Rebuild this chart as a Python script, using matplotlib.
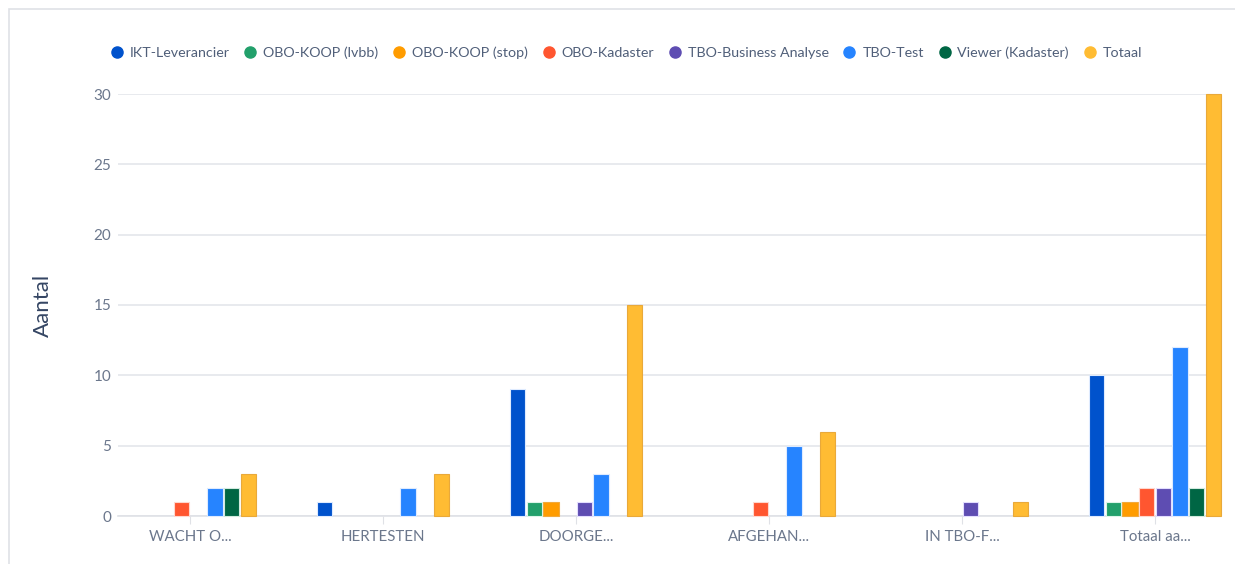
import matplotlib
matplotlib.use('Agg')
import matplotlib.pyplot as plt
from matplotlib.lines import Line2D
from matplotlib.patches import Rectangle
import numpy as np

plt.rcParams['font.family'] = ['Lato', 'DejaVu Sans']

categories = ['WACHT O...', 'HERTESTEN', 'DOORGE...', 'AFGEHAN...', 'IN TBO-F...', 'Totaal aa...']
series_names = ['IKT-Leverancier', 'OBO-KOOP (lvbb)', 'OBO-KOOP (stop)', 'OBO-Kadaster',
                'TBO-Business Analyse', 'TBO-Test', 'Viewer (Kadaster)', 'Totaal']
ikt = [0, 1, 9, 0, 0, 10]
lvbb = [0, 0, 1, 0, 0, 1]
stop = [0, 0, 1, 0, 0, 1]
kadaster = [1, 0, 0, 1, 0, 2]
business = [0, 0, 1, 0, 1, 2]
test = [2, 2, 3, 5, 0, 12]
viewer = [2, 0, 0, 0, 0, 2]
totaal = [3, 3, 15, 6, 1, 30]
series_values = [ikt, lvbb, stop, kadaster, business, test, viewer, totaal]

colors = ['#0052CC', '#22A06B', '#FF9C00', '#FF5630', '#5E4DB2', '#2684FF', '#006644', '#FFBC33']
edges = ['#DEEBFF', '#DDF5EA', '#F2A93B', '#FFD8CF', '#E3DEFF', '#DEEBFF', '#D3EBDF', '#E9A93A']

fig = plt.figure(figsize=(12.35, 5.64), dpi=100)
ax = fig.add_axes([118 / 1235, 48 / 564, 1102 / 1235, 422 / 564])

x = np.arange(len(categories))
stride = 16.7 / 193
width = 15.2 / 193
for k, vals in enumerate(series_values):
    lw = [0.8 if v > 0 else 0 for v in vals]
    ax.bar(x + (k - 3.5) * stride, vals, width=width, color=colors[k],
           edgecolor=edges[k], linewidth=lw, zorder=3, clip_on=False)

ax.set_xlim(-0.373, 5.337)
ax.set_ylim(0, 30)
ax.set_yticks([0, 5, 10, 15, 20, 25, 30])
ax.set_xticks(x)
ax.set_xticklabels(categories)
ax.grid(axis='y', color='#E4E6EB', linewidth=1.2, zorder=0)
for s in ['top', 'right', 'left']:
    ax.spines[s].set_visible(False)
ax.spines['bottom'].set_color('#DFE1E6')
ax.spines['bottom'].set_linewidth(1.2)
ax.tick_params(axis='y', length=0, pad=5, labelsize=11, labelcolor='#6B778C')
ax.tick_params(axis='x', length=6, color='#DFE1E6', pad=4, labelsize=10.8, labelcolor='#6B778C')
ax.set_ylabel('Aantal', fontsize=16, color='#344563', labelpad=29)

handles = [Line2D([], [], marker='o', linestyle='', markersize=8, color=c) for c in colors]
fig.legend(handles, series_names, loc='center left', bbox_to_anchor=(111 / 1235, 1 - 53 / 564),
           ncol=8, frameon=False, fontsize=10.3, labelcolor='#505F79',
           handlelength=0.8, handletextpad=0.5, columnspacing=1.05,
           borderaxespad=0, borderpad=0)

fig.patches.append(Rectangle((9 / 1235, -0.1), 1.2, 1 - 9 / 564 + 0.1, transform=fig.transFigure,
                             fill=False, edgecolor='#DFE1E6', linewidth=1.2))

fig.savefig('out.png', dpi=100)
